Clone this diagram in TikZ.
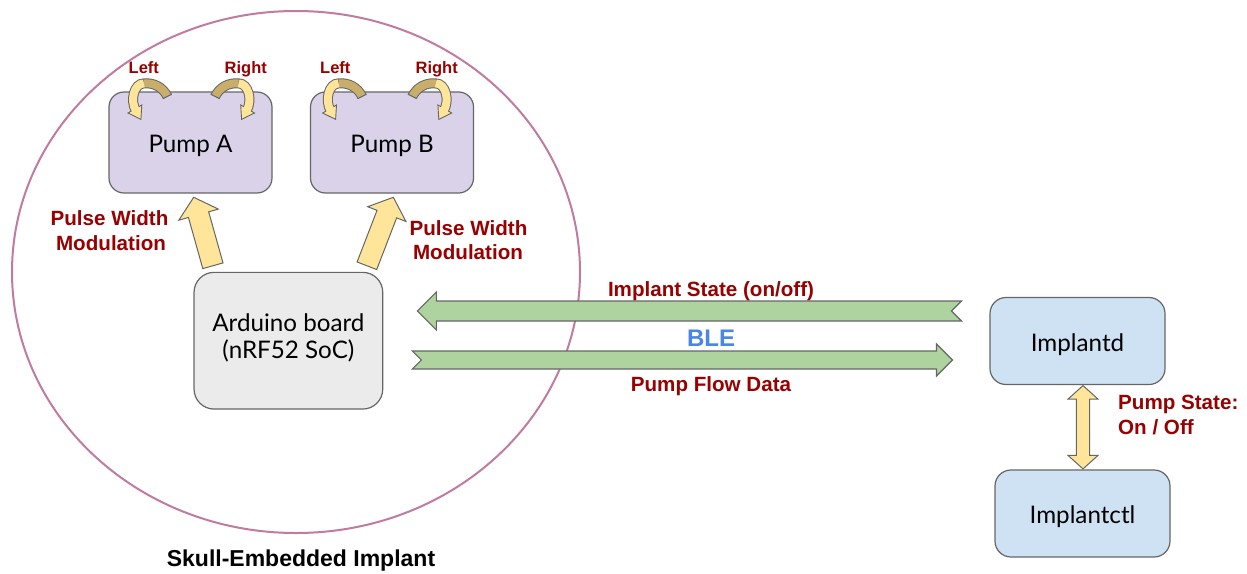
\documentclass[tikz,border=0pt]{standalone}
\usepackage{fontspec}
\setmainfont{Liberation Sans}
\newfontfamily\boxfont{Lato}
\usetikzlibrary{calc,shapes.geometric}

\definecolor{pumpfill}{HTML}{D9D2E9}
\definecolor{ardfill}{HTML}{EBEBEB}
\definecolor{implfill}{HTML}{CFE2F3}
\definecolor{greenarr}{HTML}{AED39F}
\definecolor{yel}{HTML}{FFE599}
\definecolor{olivearr}{HTML}{C9AD6A}
\definecolor{darkred}{HTML}{990000}
\definecolor{bleblue}{HTML}{4A86E8}
\definecolor{skullline}{HTML}{C27BA0}
\definecolor{boxline}{HTML}{666666}

% block arrow: #1 tail, #2 tip, #3 half shaft, #4 half head, #5 head length, #6 notch depth, #7 style
\newcommand\blockarrow[7]{%
  \coordinate (ba-c) at ($(#2)!#5!(#1)$);
  \draw[#7] ($(#1)!#3!90:(#2)$) -- ($(ba-c)!#3!90:(#2)$) -- ($(ba-c)!#4!90:(#2)$)
     -- (#2) -- ($(ba-c)!#4!-90:(#2)$) -- ($(ba-c)!#3!-90:(#2)$)
     -- ($(#1)!#3!-90:(#2)$) -- ($(#1)!#6!(#2)$) -- cycle;
}
% double arrow: #1 tip, #2 tip, #3 half shaft, #4 half head, #5 head length, #6 style
\newcommand\dblarrow[6]{%
  \coordinate (da-a) at ($(#1)!#5!(#2)$);
  \coordinate (da-b) at ($(#2)!#5!(#1)$);
  \draw[#6] (#1) -- ($(da-a)!#4!90:(#2)$) -- ($(da-a)!#3!90:(#2)$)
     -- ($(da-b)!#3!-90:(#1)$) -- ($(da-b)!#4!-90:(#1)$) -- (#2)
     -- ($(da-b)!#4!90:(#1)$) -- ($(da-b)!#3!90:(#1)$)
     -- ($(da-a)!#3!-90:(#2)$) -- ($(da-a)!#4!-90:(#2)$) -- cycle;
}

\tikzset{
  box/.style={draw=boxline, line width=1.2pt, rounded corners=15pt, align=center,
    inner sep=0pt, font=\boxfont\fontsize{24.2}{27}\selectfont, text height=20pt, text depth=0pt},
  boxtxt/.style={font=\boxfont\fontsize{24.2}{27}\selectfont, anchor=base, inner sep=0pt},
  pumpbox/.style={box, fill=pumpfill, minimum width=163pt, minimum height=101pt},
  ardbox/.style={box, fill=ardfill, minimum width=188.7pt, minimum height=136.7pt, rounded corners=20pt},
  implbox/.style={box, fill=implfill, minimum width=175pt, minimum height=87pt, rounded corners=16pt},
  lbl/.style={text=darkred, font=\bfseries\fontsize{20.6}{25}\selectfont, anchor=base, inner sep=0pt},
  smalllbl/.style={text=darkred, font=\bfseries\fontsize{16.5}{20}\selectfont, anchor=base, inner sep=0pt},
  yelarrow/.style={fill=yel, draw=boxline, line width=1pt, line join=miter},
  grnarrow/.style={fill=greenarr, draw=boxline, line width=1.2pt, line join=miter},
  turnarrow/.pic={
    \draw[line width=10pt, draw=boxline] (26.5,-23) .. controls (22,-32) and (13,-37) .. (3,-36)
        .. controls (-7,-36) and (-11,-19) .. (-5,-8.7);
    \filldraw[fill=yel, draw=boxline, line width=0.9pt, line join=miter] (0,0) -- (0.9,-14.4) -- (-12.9,-6.4) -- cycle;
    \draw[line width=8pt, draw=olivearr] (26.5,-23) .. controls (22,-32) and (13,-37) .. (3,-36);
    \draw[line width=8pt, draw=yel] (3,-36) .. controls (-7,-36) and (-11,-19) .. (-5,-8.7);
    \draw[line width=1pt, draw=boxline] (30.97,-25.24) -- (22.03,-20.76);
  },
}

\begin{document}
\begin{tikzpicture}[x=1pt,y=-1pt]
\useasboundingbox[fill=white] (0,0) rectangle (1247,573);

% skull ellipse
\node[draw=skullline, line width=2pt, ellipse, minimum width=568pt, minimum height=522pt, inner sep=0pt] (skull) at (296,272) {};
\node[font=\bfseries\fontsize{23}{28}\selectfont, anchor=base, inner sep=0pt] (skulllbl) at (301,566) {Skull-Embedded Implant};

% boxes
\node[pumpbox] (pa) at (190.5,142.5) {Pump A};
\node[pumpbox] (pb) at (392,142.5) {Pump B};
\node[ardbox] (ard) at (288.4,340.7) {};
\node[boxtxt] (ardt1) at ($(ard.center)+(0,-9)$) {Arduino board};
\node[boxtxt] (ardt2) at ($(ard.center)+(0,17.6)$) {(nRF52 SoC)};
\node[implbox] (imd) at (1077.5,341) {Implantd};
\node[implbox] (imc) at (1082.5,513.5) {Implantctl};

% turn arrows on pumps
\pic at ($(pa.north west)+(32.5,28)$) {turnarrow};
\pic[xscale=-1] at ($(pa.north east)+(-31,28)$) {turnarrow};
\pic at ($(pb.north west)+(25.7,28)$) {turnarrow};
\pic[xscale=-1] at ($(pb.north east)+(-35.3,28)$) {turnarrow};
\node[smalllbl] (la) at (143.8,73) {Left};
\node[smalllbl] (ra) at (245.8,73) {Right};
\node[smalllbl] (lb) at (335.3,73) {Left};
\node[smalllbl] (rb) at (436.7,73) {Right};

% PWM arrows
\coordinate (pwmA-t) at ($(ard.north)+(-75.5,-6)$);
\coordinate (pwmA-h) at ($(pa.south)+(3.2,3.7)$);
\coordinate (pwmB-t) at ($(ard.north)+(78.5,-6)$);
\coordinate (pwmB-h) at ($(pb.south)+(1.3,3.7)$);
\blockarrow{pwmA-t}{pwmA-h}{10.5pt}{20.5pt}{18pt}{0pt}{yelarrow}
\blockarrow{pwmB-t}{pwmB-h}{10.5pt}{20.5pt}{18pt}{0pt}{yelarrow}
\node[lbl] (pwmA1) at (109.5,225) {Pulse Width};
\node[lbl] (pwmA2) at (111,250) {Modulation};
\node[lbl] (pwmB1) at (468.5,235) {Pulse Width};
\node[lbl] (pwmB2) at (468,259.5) {Modulation};

% BLE arrows
\coordinate (st-t) at ($(imd.west)+(-28,-30)$);
\coordinate (st-h) at ($(ard.east)+(34,-29.7)$);
\coordinate (fl-t) at ($(ard.east)+(29,19.3)$);
\coordinate (fl-h) at ($(imd.west)+(-37,19)$);
\blockarrow{st-t}{st-h}{10pt}{19pt}{19pt}{10pt}{grnarrow}
\blockarrow{fl-t}{fl-h}{9pt}{16pt}{16pt}{9pt}{grnarrow}
\node[lbl] (stlbl) at (711,296) {Implant State (on/off)};
\node[lbl, text=bleblue, font=\bfseries\fontsize{24}{28}\selectfont] (ble) at (711,346.5) {BLE};
\node[lbl] (fllbl) at (711,391) {Pump Flow Data};

% Implantd <-> Implantctl
\coordinate (ps-a) at ($(imd.south)+(5.5,0.5)$);
\coordinate (ps-b) at ($(imc.north)+(0.5,-0.5)$);
\dblarrow{ps-a}{ps-b}{6.7pt}{15pt}{13.5pt}{yelarrow}
\node[lbl, anchor=base west] (ps1) at (1118,409.3) {Pump State:};
\node[lbl, anchor=base west] (ps2) at (1118,434) {On / Off};
\end{tikzpicture}
\end{document}
